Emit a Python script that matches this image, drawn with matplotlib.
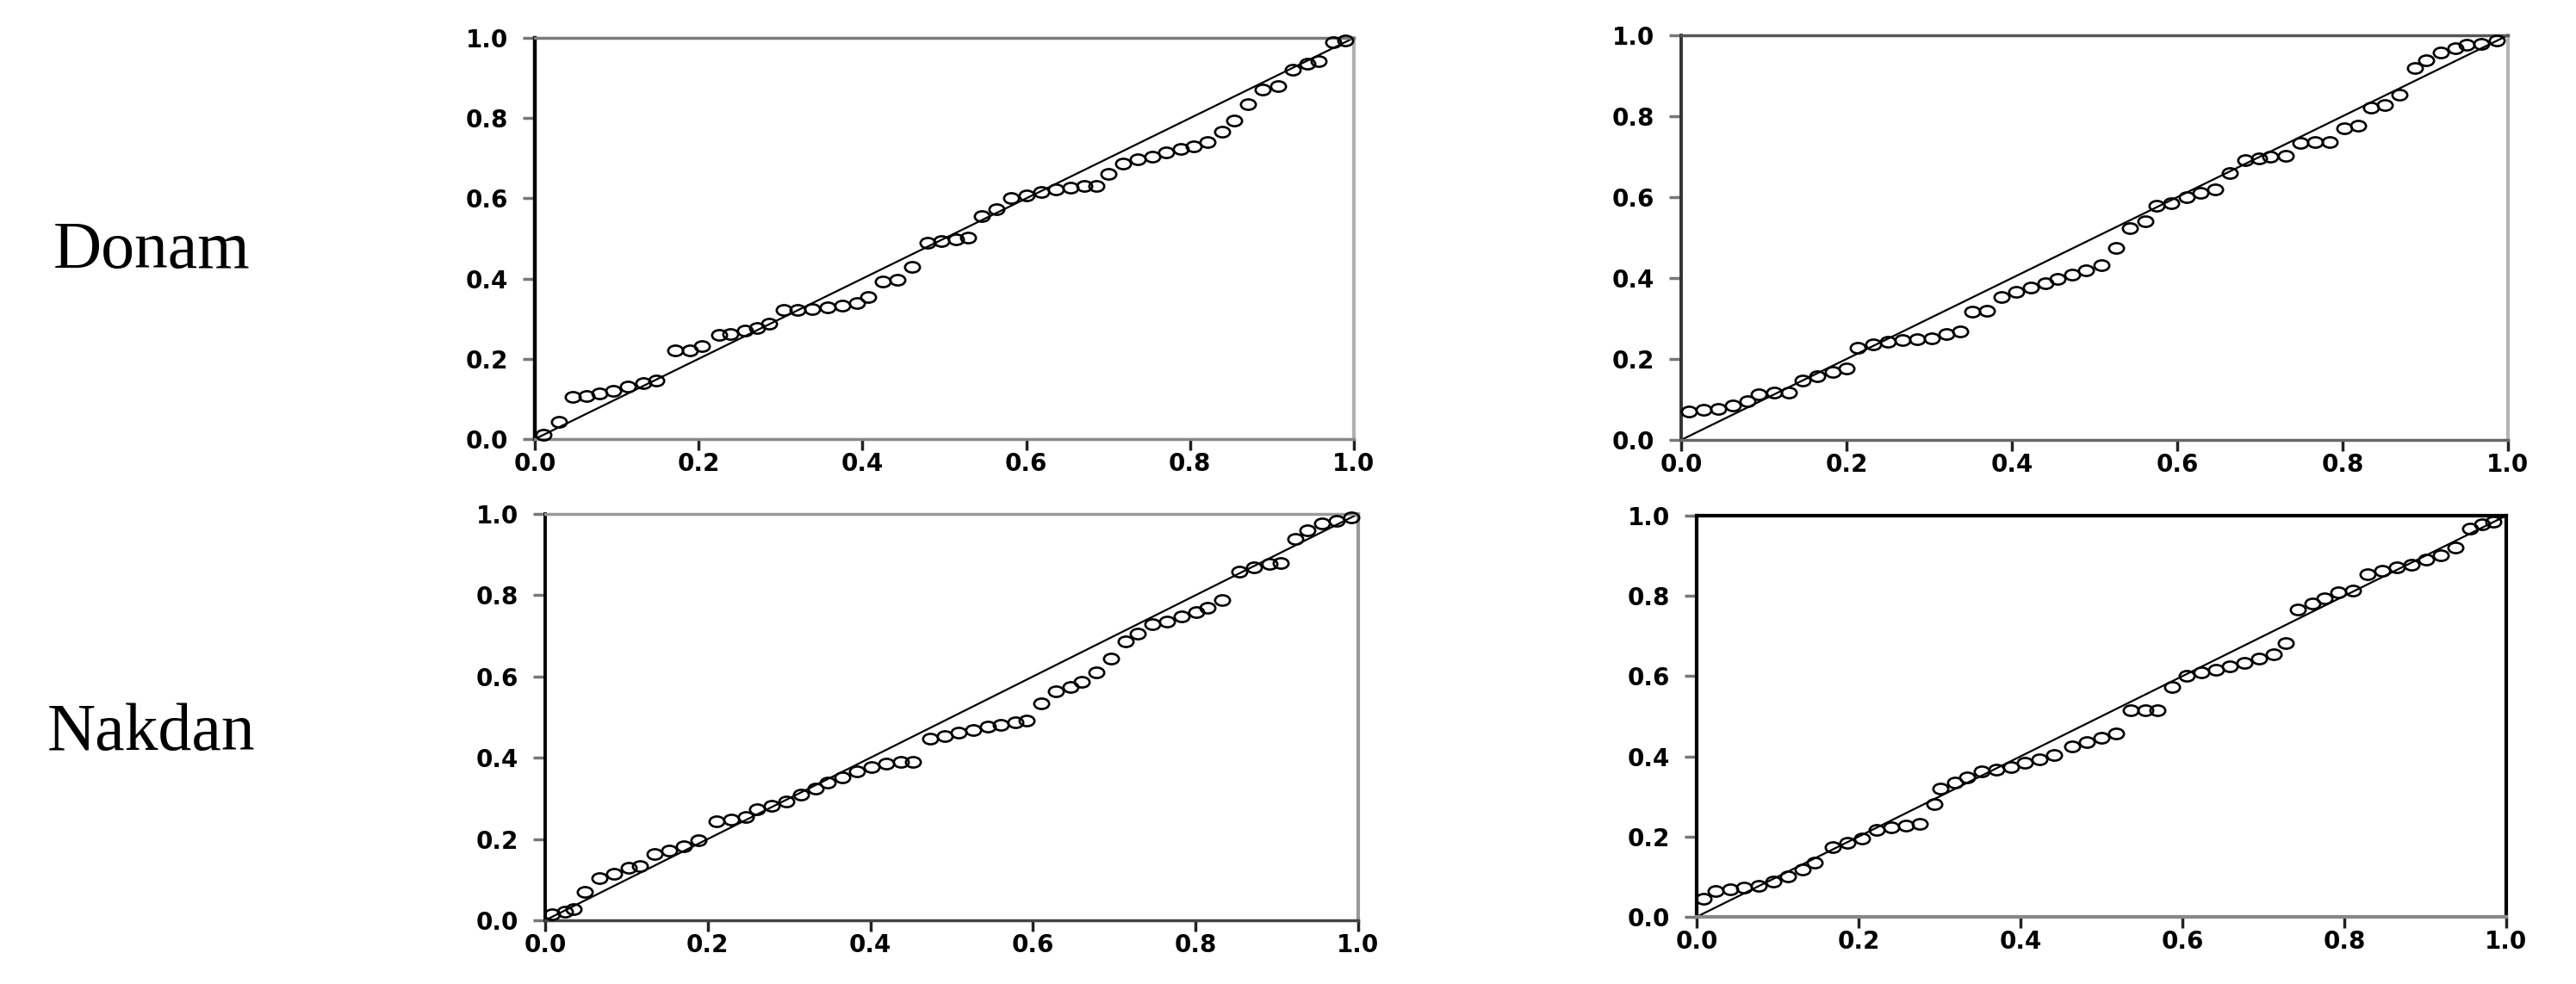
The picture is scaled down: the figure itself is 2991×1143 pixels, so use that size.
import matplotlib.pyplot as plt
from matplotlib.path import Path
from matplotlib.transforms import Affine2D

W, H = 2991, 1143

row_labels = ['Donam', 'Nakdan']
ticks = [0.0, 0.2, 0.4, 0.6, 0.8, 1.0]
tick_labels = ['0.0', '0.2', '0.4', '0.6', '0.8', '1.0']

donam_1_x = [0.011, 0.029, 0.046, 0.063, 0.079, 0.096, 0.114, 0.132, 0.148,
             0.171, 0.189, 0.204, 0.225, 0.239, 0.257, 0.271, 0.286,
             0.304, 0.321, 0.339, 0.357, 0.375, 0.393, 0.407, 0.425, 0.443, 0.461,
             0.479, 0.496, 0.514, 0.529, 0.546, 0.564, 0.582, 0.6, 0.618, 0.636,
             0.654, 0.671, 0.686, 0.7, 0.718, 0.736, 0.754, 0.771, 0.789, 0.804, 0.821,
             0.839, 0.854, 0.871, 0.889, 0.907, 0.925, 0.943, 0.957, 0.975, 0.989]
donam_1_y = [0.01, 0.043, 0.106, 0.108, 0.113, 0.12, 0.131, 0.139, 0.145,
             0.221, 0.222, 0.232, 0.259, 0.262, 0.27, 0.277, 0.288,
             0.322, 0.322, 0.325, 0.329, 0.333, 0.34, 0.355, 0.392, 0.396, 0.429,
             0.489, 0.493, 0.498, 0.502, 0.556, 0.574, 0.6, 0.608, 0.615, 0.623,
             0.626, 0.63, 0.63, 0.66, 0.686, 0.697, 0.704, 0.715, 0.723, 0.73, 0.741,
             0.767, 0.793, 0.834, 0.871, 0.879, 0.92, 0.935, 0.942, 0.99, 0.994]

donam_2_x = [0.009, 0.027, 0.045, 0.062, 0.08, 0.094, 0.112, 0.13,
             0.147, 0.165, 0.183, 0.2, 0.214, 0.232, 0.25, 0.268, 0.285, 0.303, 0.321, 0.338,
             0.352, 0.37, 0.388, 0.405, 0.423, 0.441, 0.455, 0.473, 0.49, 0.508,
             0.526, 0.543, 0.561, 0.575, 0.593, 0.611, 0.628, 0.646, 0.664,
             0.682, 0.699, 0.713, 0.731, 0.749, 0.767, 0.784, 0.802, 0.819,
             0.834, 0.851, 0.869, 0.887, 0.901, 0.919, 0.936, 0.95, 0.968, 0.986]
donam_2_y = [0.07, 0.074, 0.077, 0.085, 0.096, 0.112, 0.116, 0.116,
             0.147, 0.158, 0.169, 0.177, 0.228, 0.236, 0.243, 0.247, 0.25, 0.252, 0.261, 0.269,
             0.317, 0.32, 0.353, 0.365, 0.376, 0.387, 0.398, 0.409, 0.42, 0.431,
             0.475, 0.523, 0.541, 0.578, 0.585, 0.6, 0.611, 0.62, 0.659,
             0.692, 0.696, 0.7, 0.703, 0.733, 0.736, 0.736, 0.77, 0.777,
             0.821, 0.828, 0.854, 0.92, 0.939, 0.957, 0.968, 0.976, 0.979, 0.987]

nakdan_1_x = [0.009, 0.024, 0.035, 0.049, 0.067, 0.085, 0.103, 0.117,
              0.135, 0.153, 0.171, 0.189, 0.211, 0.229, 0.247, 0.261, 0.279, 0.297, 0.315, 0.333,
              0.347, 0.365, 0.383, 0.401, 0.419, 0.437, 0.452,
              0.473, 0.491, 0.509, 0.527, 0.545, 0.56, 0.578, 0.592, 0.61,
              0.628, 0.646, 0.66, 0.678, 0.696, 0.714, 0.729,
              0.747, 0.765, 0.783, 0.801, 0.815, 0.833, 0.854, 0.872, 0.891, 0.905,
              0.923, 0.937, 0.955, 0.973, 0.991]
nakdan_1_y = [0.015, 0.021, 0.027, 0.069, 0.103, 0.114, 0.13, 0.133,
              0.164, 0.171, 0.183, 0.198, 0.244, 0.248, 0.255, 0.274, 0.282, 0.293, 0.309, 0.324,
              0.339, 0.351, 0.366, 0.377, 0.385, 0.389, 0.389,
              0.446, 0.454, 0.461, 0.469, 0.476, 0.48, 0.488, 0.492, 0.534,
              0.564, 0.575, 0.587, 0.61, 0.644, 0.686, 0.705,
              0.728, 0.736, 0.747, 0.758, 0.77, 0.789, 0.857, 0.869, 0.877, 0.88,
              0.938, 0.96, 0.976, 0.983, 0.991]

nakdan_2_x = [0.009, 0.023, 0.041, 0.059, 0.077, 0.095, 0.113, 0.131, 0.146,
              0.168, 0.186, 0.204, 0.222, 0.24, 0.258, 0.276, 0.294,
              0.301, 0.319, 0.334, 0.352, 0.37, 0.388, 0.405, 0.423, 0.442,
              0.464, 0.482, 0.5, 0.518, 0.536, 0.554, 0.569, 0.587,
              0.605, 0.623, 0.641, 0.659, 0.677, 0.695, 0.713, 0.728,
              0.743, 0.761, 0.775, 0.793, 0.811, 0.829, 0.847, 0.865, 0.883, 0.901,
              0.919, 0.937, 0.955, 0.97, 0.984]
nakdan_2_y = [0.046, 0.065, 0.069, 0.073, 0.077, 0.089, 0.1, 0.119, 0.135,
              0.173, 0.185, 0.196, 0.216, 0.223, 0.227, 0.231, 0.281,
              0.32, 0.335, 0.347, 0.362, 0.366, 0.374, 0.385, 0.393, 0.404,
              0.424, 0.435, 0.447, 0.458, 0.516, 0.516, 0.516, 0.574,
              0.601, 0.609, 0.616, 0.624, 0.632, 0.643, 0.655, 0.682,
              0.767, 0.782, 0.794, 0.809, 0.813, 0.855, 0.863, 0.871, 0.878, 0.89,
              0.901, 0.921, 0.967, 0.979, 0.986]

# the source plots were stretched sideways, so the circles are squashed
ellipse = Path.unit_circle().transformed(Affine2D().scale(1.0, 0.7))

fig = plt.figure(figsize=(W / 100, H / 100), dpi=100)


def add_panel(box, x, y, spine_cols):
    '''box is left, top, right, bottom in pixels'''
    l, t, r, b = box
    ax = fig.add_axes([l / W, 1 - b / H, (r - l) / W, (b - t) / H])
    ax.plot([0, 1], [0, 1], color='black', lw=1.6, zorder=2)
    ax.plot(x, y, ls='none', marker=ellipse, ms=12.5, mfc='none', mec='black',
            mew=1.9, clip_on=False, zorder=3)
    ax.set_xlim(0, 1)
    ax.set_ylim(0, 1)
    ax.set_xticks(ticks)
    ax.set_yticks(ticks)
    ax.set_xticklabels(tick_labels, fontweight='bold')
    ax.set_yticklabels(tick_labels, fontweight='bold')
    ax.tick_params(axis='x', direction='out', length=9, width=2.5, color='#222',
                   labelsize=20, pad=2)
    ax.tick_params(axis='y', direction='out', length=10, width=2.5, color='#777',
                   labelsize=20, pad=12)
    for side, (col, lw) in spine_cols.items():
        ax.spines[side].set_color(col)
        ax.spines[side].set_linewidth(lw)
    return ax


add_panel((621, 44, 1572, 510), donam_1_x, donam_1_y,
          {'left': ('black', 3.2), 'top': ('#7a7a7a', 2.5),
           'right': ('#b0b0b0', 3.0), 'bottom': ('#888888', 2.5)})
add_panel((1952, 41, 2912, 511), donam_2_x, donam_2_y,
          {'left': ('#333333', 2.8), 'top': ('#555555', 2.5),
           'right': ('#b5b5b5', 3.0), 'bottom': ('#666666', 2.5)})
add_panel((633, 597, 1577, 1069), nakdan_1_x, nakdan_1_y,
          {'left': ('black', 2.8), 'top': ('#999999', 2.5),
           'right': ('#999999', 3.0), 'bottom': ('#444444', 2.5)})
add_panel((1970, 599, 2910, 1065), nakdan_2_x, nakdan_2_y,
          {'left': ('black', 3.0), 'top': ('black', 3.0),
           'right': ('black', 3.0), 'bottom': ('#888888', 3.0)})

fig.text(176 / W, 1 - 292 / H, row_labels[0], family='Liberation Serif',
         fontsize=56, ha='center', va='center')
fig.text(176 / W, 1 - 852 / H, row_labels[1], family='Liberation Serif',
         fontsize=56, ha='center', va='center')

fig.savefig('out.png', dpi=100, facecolor='white')
